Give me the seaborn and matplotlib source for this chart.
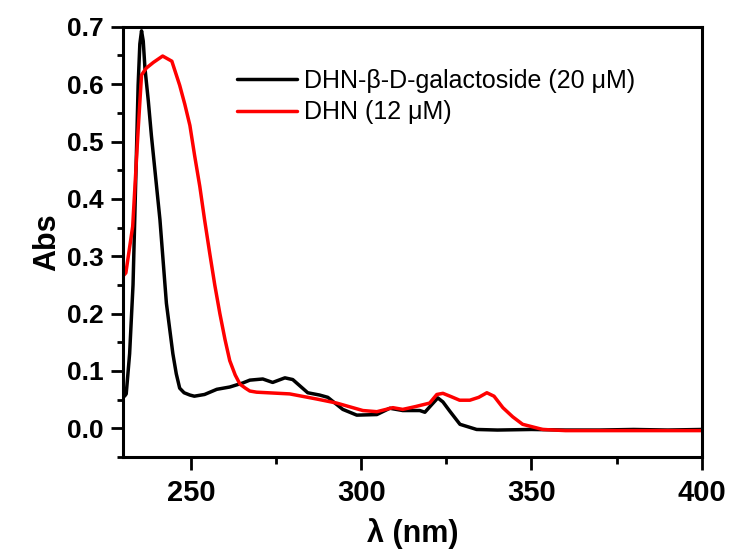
import matplotlib
matplotlib.use("Agg")
import matplotlib.pyplot as plt
import seaborn as sns
import pandas as pd
from matplotlib.ticker import MultipleLocator

# --- data ---
gal_nm = [230.5, 231.0, 232.0, 233.0, 233.5, 234.0, 234.5, 235.0, 235.5, 236.0, 236.5, 237.5,
          238.4, 240.9, 242.8, 244.7, 245.7, 246.7, 248.0, 249.7, 251.0, 254.0, 257.6, 261.4,
          265.2, 267.3, 271.1, 274.0, 277.6, 279.9, 284.3, 287.8, 290.2, 294.6, 298.7, 304.6,
          308.4, 312.2, 317.2, 318.7, 320.5, 322.5, 324.0, 326.0, 329.0, 333.9, 340.0, 350.0,
          360.0, 370.0, 380.0, 390.0, 400.0]
gal_abs = [0.056, 0.060, 0.130, 0.250, 0.364, 0.480, 0.598, 0.670, 0.693, 0.675, 0.628, 0.570,
           0.510, 0.364, 0.218, 0.130, 0.095, 0.070, 0.062, 0.058, 0.056, 0.059, 0.068, 0.072,
           0.079, 0.084, 0.086, 0.080, 0.088, 0.085, 0.062, 0.058, 0.054, 0.033, 0.023, 0.024,
           0.035, 0.031, 0.031, 0.028, 0.040, 0.053, 0.046, 0.030, 0.007, -0.002, -0.003, -0.002,
           -0.003, -0.003, -0.002, -0.003, -0.002]

dhn_nm = [230.0, 230.9, 232.9, 234.5, 235.5, 236.9, 239.0, 241.7, 244.4, 246.7, 248.2, 249.7,
          251.1, 252.6, 254.0, 255.5, 257.0, 258.5, 260.0, 261.4, 263.0, 264.4, 266.0, 267.3,
          269.3, 279.0, 287.0, 292.8, 300.5, 304.6, 309.3, 312.2, 316.0, 320.1, 322.2, 324.0,
          326.5, 328.9, 331.9, 334.5, 336.9, 339.0, 341.6, 344.5, 347.4, 353.3, 360.0, 370.0,
          380.0, 390.0, 400.0]
dhn_abs = [0.265, 0.271, 0.352, 0.520, 0.616, 0.628, 0.638, 0.649, 0.640, 0.598, 0.565, 0.528,
           0.475, 0.422, 0.364, 0.306, 0.250, 0.200, 0.155, 0.118, 0.093, 0.077, 0.070, 0.065,
           0.063, 0.060, 0.051, 0.044, 0.031, 0.029, 0.036, 0.033, 0.038, 0.044, 0.059, 0.061,
           0.055, 0.049, 0.049, 0.054, 0.062, 0.056, 0.036, 0.020, 0.007, -0.002, -0.004, -0.004,
           -0.004, -0.004, -0.004]

labels = ["DHN-\u03b2-D-galactoside (20 \u03bcM)", "DHN (12 \u03bcM)"]
colors = ["#000000", "#ff0000"]

df = pd.concat([
    pd.DataFrame({"nm": gal_nm, "abs": gal_abs, "series": labels[0]}),
    pd.DataFrame({"nm": dhn_nm, "abs": dhn_abs, "series": labels[1]}),
], ignore_index=True)

sns.set_style("ticks")
plt.rcParams["font.family"] = ["Liberation Sans", "DejaVu Sans"]
for k in ["text.color", "axes.labelcolor", "xtick.color", "ytick.color", "axes.edgecolor"]:
    plt.rcParams[k] = "black"

fig = plt.figure(figsize=(7.31, 5.58), dpi=100)
ax = fig.add_axes([0.168, 0.181, 0.792, 0.771])

sns.lineplot(data=df, x="nm", y="abs", hue="series", palette=dict(zip(labels, colors)),
             sort=False, estimator=None, linewidth=2.5, ax=ax)

ax.set_xlim(230, 400)
ax.set_ylim(-0.05, 0.7)
ax.set_xticks([250, 300, 350, 400])
ax.set_yticks([0.0, 0.1, 0.2, 0.3, 0.4, 0.5, 0.6, 0.7])
ax.set_yticklabels([f"{v:.1f}" for v in [0.0, 0.1, 0.2, 0.3, 0.4, 0.5, 0.6, 0.7]])
ax.xaxis.set_minor_locator(MultipleLocator(25))
ax.yaxis.set_minor_locator(MultipleLocator(0.05))
ax.tick_params(axis="x", which="major", direction="out", length=9.5, width=2.0, labelsize=21, pad=6)
ax.tick_params(axis="y", which="major", direction="out", length=8.5, width=2.0, labelsize=19, pad=5)
ax.tick_params(axis="x", which="minor", direction="out", length=5, width=2.0)
ax.tick_params(axis="y", which="minor", direction="out", length=4, width=2.0)
for lab in ax.get_xticklabels() + ax.get_yticklabels():
    lab.set_fontweight("bold")

for s in ax.spines.values():
    s.set_visible(True)
    s.set_linewidth(2.2)
    s.set_color("black")

ax.set_xlabel("\u03bb (nm)", fontsize=22, fontweight="bold", labelpad=8)
ax.set_ylabel("Abs", fontsize=22, fontweight="bold", labelpad=4)

ax.legend(frameon=False, fontsize=18, loc="upper left", bbox_to_anchor=(0.197, 0.902),
          borderpad=0, borderaxespad=0, handlelength=2.4, handletextpad=0.3,
          labelspacing=0.3)

fig.savefig("out.png", dpi=100)
